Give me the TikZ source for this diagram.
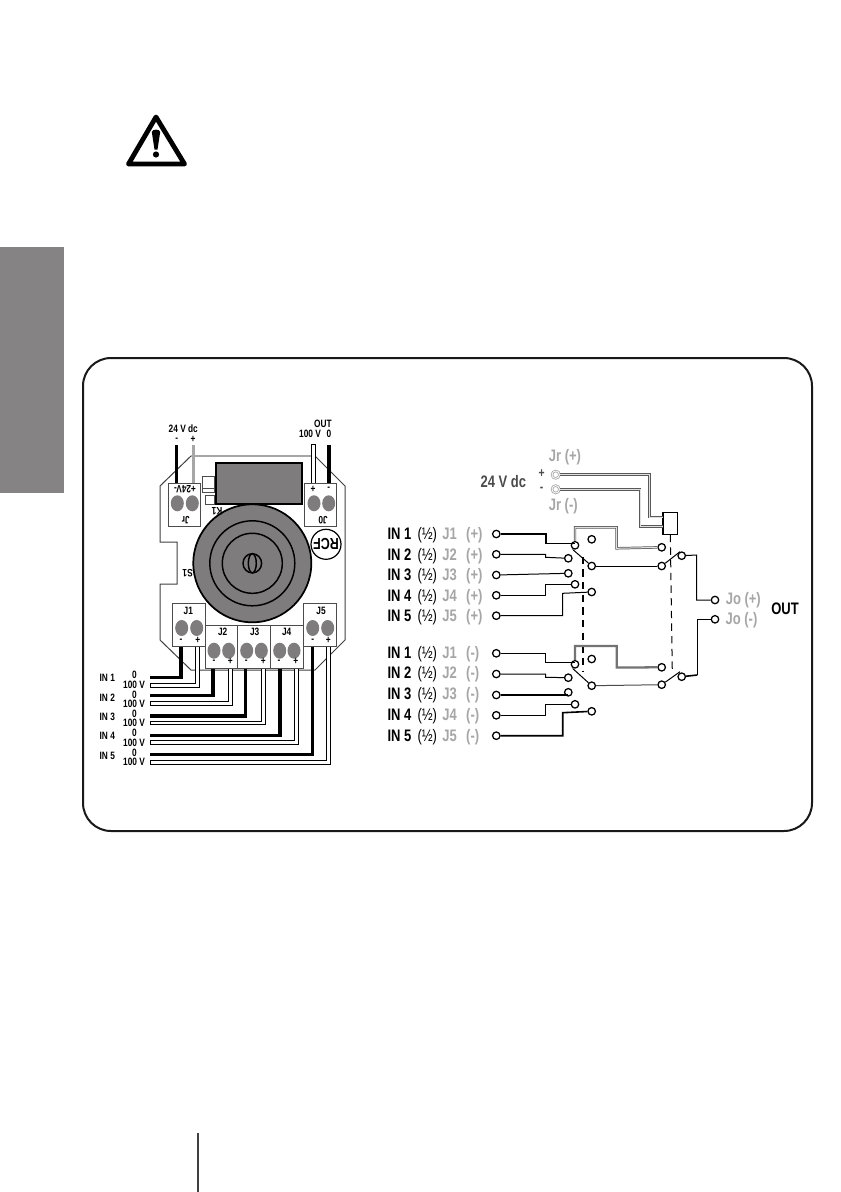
\documentclass[tikz,border=0pt]{standalone}
\usepackage{fontspec}
\setmainfont[FakeStretch=0.78]{Liberation Sans}
\definecolor{tabgray}{HTML}{858383}
\definecolor{padgray}{HTML}{7F7C7D}
\definecolor{lblgray}{HTML}{A6A6A6}
\definecolor{wiregray}{HTML}{888888}
\tikzset{
  x=0.75pt,y=-0.75pt,
  term/.style={circle,draw=black,fill=white,line width=0.95pt,minimum size=5.6pt,inner sep=0pt},
  jack/.style={circle,draw=lblgray,double=white,fill=white,line width=0.6pt,minimum size=5.6pt,inner sep=0pt},
  pcbbox/.style={draw=black!70,fill=white,line width=0.75pt},
  pad/.style={fill=padgray,draw=none},
  tiny/.style={inner sep=0pt,font=\bfseries\fontsize{8}{8}\selectfont,text=black},
  row/.style={inner sep=0pt,anchor=west,font=\fontsize{12.5}{12.5}\selectfont},
  gl/.style={inner sep=0pt,font=\bfseries\fontsize{12.5}{12.5}\selectfont,text=lblgray},
  sig/.style={line width=0.75pt,draw=black},
  sigb/.style={line width=1.2pt,draw=black},
  dbl/.style={draw=black!65,double=black!12,line width=0.55pt,double distance=0.75pt},
  whitewire/.style={draw=black,fill=white,line width=0.7pt},
  blackwire/.style={draw=black,line width=2.3pt}
}
\newcommand{\rowlabel}[1]{{\bfseries #1}\hspace{0.15em} (½)\hspace{0.1em}}
\begin{document}
\begin{tikzpicture}
\useasboundingbox (0,0) rectangle (840,1192);
\fill[white] (0,0) rectangle (840,1192);
% side tab and page rule
\fill[tabgray] (0,246.7) rectangle (64,492.7);
\draw[black!75,line width=1.1pt] (198,1133) -- (198,1192);
% warning sign
\draw[black,line width=3.6pt,line join=round] (156,117) -- (128.5,164) -- (184.5,164) -- cycle;
\fill[black] (151.8,132) .. controls (152,128.8) and (160,128.8) .. (160.2,132) -- (157.5,149.5) -- (154.5,149.5) -- cycle;
\fill[black] (156,154.5) circle (3.1);
% frame
\draw[black!90,line width=1.5pt,rounded corners=21pt] (83,358) rectangle (812,831);
% PCB outline
\draw[black!75,line width=0.75pt] (160,640) -- (160,584) -- (177,584) -- (177,542) -- (160,542) -- (160,486) -- (191,456);
\draw[black!35,line width=1.4pt] (191,456) -- (315,456);
\draw[black!75,line width=0.75pt] (315,456) -- (345,486) -- (345,640) -- (315,670) -- (191,670) -- (160,640);
% speaker
\fill[padgray] (252.3,563.3) circle (59);
\draw[black,line width=1.3pt] (252.3,563.3) circle (59);
\draw[black,line width=1.1pt] (252.3,563.3) circle (42.5);
\draw[black,line width=1.1pt] (252.3,563.3) circle (30);
\draw[black,line width=1.1pt] (252.3,563.3) ellipse (9.3 and 9.6);
\draw[black,line width=1.1pt] (252.3,563.3) ellipse (4 and 9.6);
% relay
\draw[black,fill=padgray,line width=1.3pt] (216,462.7) rectangle (302,504.3);
\draw[black!70,fill=white,line width=0.7pt] (202.7,476.7) rectangle (214.3,492.3);
\draw[black!70,line width=0.7pt] (202.7,488) -- (214.3,488);
\draw[black!70,fill=white,line width=0.7pt] (205,495.7) rectangle (214.3,504.3);
% RCF logo
\draw[black,fill=white,line width=0.9pt] (326,544.3) circle (15);
\node[inner sep=0pt,rotate=180,font=\bfseries\fontsize{12}{12}\selectfont] (rcf) at (326,544.3) {RCF};
% top wires
\draw[blackwire] (176.7,445) -- (176.7,483.3);
\draw[draw=black!35,line width=2.4pt] (193.3,445) -- (193.3,483.3);
\draw[whitewire] (311.7,444) rectangle (315.7,483.3);
\draw[blackwire,line width=2.8pt] (329,445) -- (329,483.3);
% top terminal blocks
\draw[pcbbox] (168.3,483.3) rectangle (200.7,526.7);
\draw[pcbbox] (304.3,483.3) rectangle (336.7,526.7);
\foreach \x in {177.3,192.3,314,328.7} \fill[pad] (\x,503.3) ellipse (6.5 and 8);
% bottom wires
\foreach \n/\by/\bx/\wt/\wb/\wl/\wr/\yend in {
 1/677.3/181/683.7/687.3/195.3/199.3/646.7,
 2/695.7/213/701.7/705.3/228.3/232.3/668.3,
 3/716/245.7/721/724.7/261.3/265.3/668.3,
 4/735.3/280/740.7/744.3/294.3/298.3/668.3,
 5/754.7/312.7/760.3/764/326.7/330.3/646.7}{
  \draw[blackwire,line cap=butt] (150,\by) -| (\bx,\yend);
  \draw[whitewire] (\wl,\yend) -- (\wl,\wt) -- (150,\wt) -- (150,\wb) -- (\wr,\wb) -- (\wr,\yend);
}
% bottom terminal blocks
\draw[pcbbox] (172.3,603.3) rectangle (205,646.7);
\draw[pcbbox] (205,625.7) rectangle (237.7,668.3);
\draw[pcbbox] (237.7,625.7) rectangle (270.3,668.3);
\draw[pcbbox] (270.3,625.7) rectangle (303.3,668.3);
\draw[pcbbox] (303.3,603.3) rectangle (336,646.7);
\foreach \x in {181.7,196.7,312.7,327.7} \fill[pad] (\x,628) ellipse (6.5 and 8);
\foreach \x in {214,228.7,246.7,261.3,279.7,294} \fill[pad] (\x,650.7) ellipse (6.5 and 8);
% PCB labels
\node[tiny] (t24) at (183.3,428.8) {24 V dc};
\node[tiny] (tm) at (176.7,439.5) {-};
\node[tiny] (tp) at (193,439.5) {+};
\node[tiny] (tout) at (323,423.5) {OUT};
\node[tiny] (t100) at (310,434) {100 V};
\node[tiny] (t0) at (329,434) {0};
\node[tiny,rotate=180] (tjr24) at (185,489.5) {+24V-};
\node[tiny,rotate=180] (tjr) at (185.7,520) {Jr};
\node[tiny,rotate=180] (tjo) at (323,520) {J0};
\node[tiny] (toplus) at (313,489) {+};
\node[tiny] (tominus) at (328.7,489) {-};
\node[tiny,rotate=180] (tk1) at (217,511) {K1};
\node[tiny,rotate=180] (ts1) at (187.7,573) {S1};
\foreach \n/\x/\y/\mx/\px in {1/188.3/611.3/181/197.7,5/321/611.3/312.7/328.3,2/222.7/632.3/214/230.3,3/254.7/632.3/246.3/263.3,4/286.7/632.3/279/295.7}{
  \node[tiny] (tj\n) at (\x,\y) {J\n};
  \node[tiny] (tjm\n) at (\mx,\y+29.2) {-};
  \node[tiny] (tjp\n) at (\px,\y+29.2) {+};
}
\foreach \n/\a/\b/\c in {1/678/675/684.7,2/697.3/695/704,3/716.7/714/723.3,4/736/733.3/742.7,5/756/753.3/762}{
  \node[tiny] (tin\n) at (107.3,\a) {IN \n};
  \node[tiny] (tz\n) at (134.5,\b) {0};
  \node[tiny] (tv\n) at (134,\c) {100 V};
}
% schematic: terminals
\foreach \n/\y in {1/534,2/554.3,3/575,4/595.3,5/615.7}
  \node[term] (iu\n) at (496.3,\y) {};
\foreach \n/\y in {1/653.3,2/674,3/695,4/715.3,5/735.7}
  \node[term] (il\n) at (496.3,\y) {};
\node[term] (uc1) at (575,545.3) {};
\node[term] (uc2) at (568.3,558.3) {};
\node[term] (uc3) at (568.3,573.3) {};
\node[term] (uc4) at (575,584.3) {};
\node[term] (uc5) at (591.7,592) {};
\node[term] (ufree) at (591.7,539.3) {};
\node[term] (ucom) at (591.7,566) {};
\node[term] (unc) at (661.7,547.3) {};
\node[term] (uno) at (661.7,566) {};
\node[term] (uout) at (681.7,555.7) {};
\node[term] (lc1) at (575,664.3) {};
\node[term] (lc2) at (568.3,677.7) {};
\node[term] (lc3) at (568.3,692.3) {};
\node[term] (lc4) at (575,704.3) {};
\node[term] (lc5) at (591.7,711.3) {};
\node[term] (lfree) at (591.7,659) {};
\node[term] (lcom) at (591.7,685.7) {};
\node[term] (lnc) at (661.7,667.3) {};
\node[term] (lno) at (661.7,684.7) {};
\node[term] (lout) at (681.7,676.7) {};
\node[term] (jop) at (715,600) {};
\node[term] (jom) at (715,619.3) {};
\node[jack] (jrp) at (555.7,474.7) {};
\node[jack] (jrm) at (555.7,489.3) {};
\node[draw=black,fill=white,line width=0.7pt,minimum width=10.5pt,minimum height=16.5pt,inner sep=0pt] (coil) at (670.3,523.3) {};
\coordinate (dtop1) at (583,556.7);
\coordinate (dbot1) at (583,671);
\coordinate (dbot2) at (672.3,672);
% dashed actuators
\draw[black,line width=1.3pt,dash pattern=on 5.5pt off 4pt] (dtop1) -- (dbot1);
\draw[black,line width=0.75pt,dash pattern=on 5.5pt off 4pt] (coil.south) -- (dbot2);
\draw[black,line width=1.3pt] (coil.north west) -- (coil.south west);
% relay feeds
\draw[dbl] (jrp) -- (649.3,474.7) -- (649.3,517) -- (coil.west |- 0,517);
\draw[dbl] (jrm) -- (640,489.3) -- (640,526.7) -- (coil.west |- 0,526.7);
% upper inputs
\draw[sigb] (iu1) -- (546,534) -- (546,543.3) -- (575,543.3);
\draw[sig] (iu2) -- (545.7,554.3) -- (545.7,557.3) -- (uc2);
\draw[sig] (iu3) -- (uc3);
\draw[sig] (iu4) -- (545.7,595.3) -- (545.7,584.3) -- (uc4);
\draw[sig] (iu5) -- (562.7,615.7) -- (562.7,593.3) -- (uc5);
% upper switch
\draw[sig] (572.7,549.5) -- (ucom);
\draw[sig] (ucom) -- (uno);
\draw[dbl] (uc1) -- (575,527.3) -- (616.7,527.3) -- (616.7,548.3) -- (unc);
\draw[sig] (uno) -- (680,551.7);
\draw[sig] (uout) -- (696.7,555) -- (696.7,600) -- (jop);
% lower inputs
\draw[sig] (il1) -- (545.7,653.3) -- (545.7,662.3) -- (575,662.3);
\draw[sig] (il2) -- (545.7,674) -- (545.7,677.3) -- (lc2);
\draw[sigb] (il3) -- (568.3,695);
\draw[sig] (il4) -- (545.7,715.3) -- (545.7,704.3) -- (lc4);
\draw[sigb] (il5) -- (562.7,735.7) -- (562.7,712.7) -- (lc5);
% lower switch
\draw[sig] (572.7,668.5) -- (lcom);
\draw[sig,draw=black!70] (lcom) -- (lno);
\draw[draw=black!55,line width=1.7pt] (lc1) -- (575,646) -- (616.7,646) -- (616.7,667.5) -- (lnc);
\draw[sig] (lno) -- (680,671.7);
\draw[sigb] (lout) -- (697.3,675);
\draw[sig] (697.3,675) -- (697.3,619.3) -- (jom);
% schematic labels
\foreach \n/\y in {1/535,2/555.7,3/576,4/596.7,5/617}
  \node[row] (lu\n) at (387.3,\y) {\rowlabel{IN \n} {\bfseries\textcolor{lblgray}{J\n\hspace{0.35em} (+)}}};
\foreach \n/\y in {1/654,2/674.5,3/695.3,4/715.7,5/736.7}
  \node[row] (ld\n) at (387.3,\y) {\rowlabel{IN \n} {\bfseries\textcolor{lblgray}{J\n\hspace{0.35em} (-)}}};
\node[gl] (ljrp) at (565,457.3) {Jr (+)};
\node[gl] (ljrm) at (563.3,506) {Jr (-)};
\node[gl,text=black!70] (l24) at (503.3,481.7) {24 V dc};
\node[gl,text=black!70,font=\bfseries\fontsize{10}{10}\selectfont] (lplus) at (541.7,474) {+};
\node[gl,text=black!70,font=\bfseries\fontsize{10}{10}\selectfont] (lminus) at (541.7,489.5) {-};
\node[gl] (ljop) at (743.3,600) {Jo (+)};
\node[gl] (ljom) at (741.5,620) {Jo (-)};
\node[gl,text=black] (lout2) at (785,608.3) {OUT};
\end{tikzpicture}
\end{document}
